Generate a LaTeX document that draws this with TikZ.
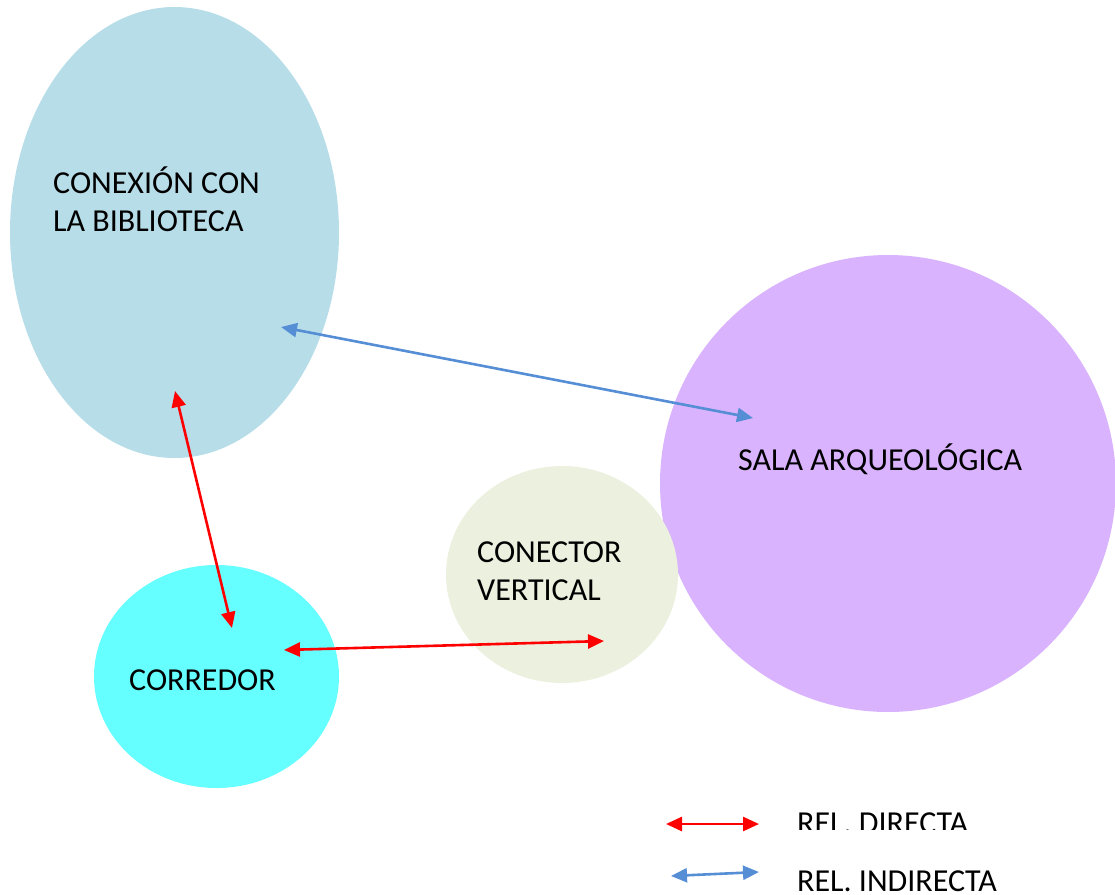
\documentclass[tikz,border=0pt]{standalone}
\usepackage{fontspec}
\setmainfont{Carlito}
\usetikzlibrary{positioning,arrows.meta,shapes.geometric}
\definecolor{biblio}{HTML}{B7DDE8}
\definecolor{sala}{HTML}{D9B3FE}
\definecolor{conector}{HTML}{EBF0DF}
\definecolor{corredor}{HTML}{66FFFF}
\definecolor{direct}{HTML}{FF0000}
\definecolor{indirect}{HTML}{558ED5}
\tikzset{
  zone/.style={ellipse, draw=none, inner sep=0pt, outer sep=0pt},
  tag/.style={font=\fontsize{32}{38}\selectfont, inner sep=0pt, align=left, anchor=base west},
  directo/.style={{Triangle[length=16pt,width=14pt]}-{Triangle[length=16pt,width=14pt]}, line width=2.6pt, draw=direct},
  indirecto/.style={{Triangle[length=16pt,width=14pt]}-{Triangle[length=16pt,width=14pt]}, line width=2.6pt, draw=indirect},
}

\begin{document}
\begin{tikzpicture}[x=1pt, y=-1pt]
    \useasboundingbox (0,0) rectangle (1115,894);
    \clip (0,0) rectangle (1115,894);
    % zonas
    \node[zone, fill=biblio, minimum width=329pt, minimum height=451pt] (bib) at (174.5,232.5) {};
    \node[zone, fill=sala, minimum width=456pt, minimum height=457pt] (sala) at (888,483.5) {};
    \node[zone, fill=conector, minimum width=232pt, minimum height=217pt] (vert) at (562,574.5) {};
    \node[zone, fill=corredor, minimum width=245pt, minimum height=223pt] (corr) at (216.5,676.5) {};
    % textos (base = ultima linea)
    \node[tag] (bibtxt) at (53,231) {CONEXIÓN CON\\LA BIBLIOTECA};
    \node[tag] (salatxt) at (738,470) {SALA ARQUEOLÓGICA};
    \node[tag] (verttxt) at (477,600) {CONECTOR\\VERTICAL};
    \node[tag] (corrtxt) at (129,690) {CORREDOR};
    % extremos de las flechas
    \coordinate (bibE) at (281,327);
    \coordinate (bibS) at (175,391);
    \coordinate (salaW) at (753,418);
    \coordinate (corrN) at (232,628);
    \coordinate (corrE) at (284,650);
    \coordinate (vertW) at (604,641);
    \draw[indirecto] (bibE) -- (salaW);
    \draw[directo] (bibS) -- (corrN);
    \draw[directo] (corrE) -- (vertW);
    % leyenda
    \coordinate (legDa) at (666,824);
    \coordinate (legDb) at (759,824);
    \coordinate (legIa) at (671,876);
    \coordinate (legIb) at (759,872);
    \draw[directo] (legDa) -- (legDb);
    \draw[indirecto] (legIa) -- (legIb);
    \begin{scope}
      \clip (780,790) rectangle (1115,829);
      \node[tag] (legD) at (797,833) {REL. DIRECTA};
    \end{scope}
    \node[tag] (legI) at (797,891) {REL. INDIRECTA};
  \end{tikzpicture}
\end{document}
